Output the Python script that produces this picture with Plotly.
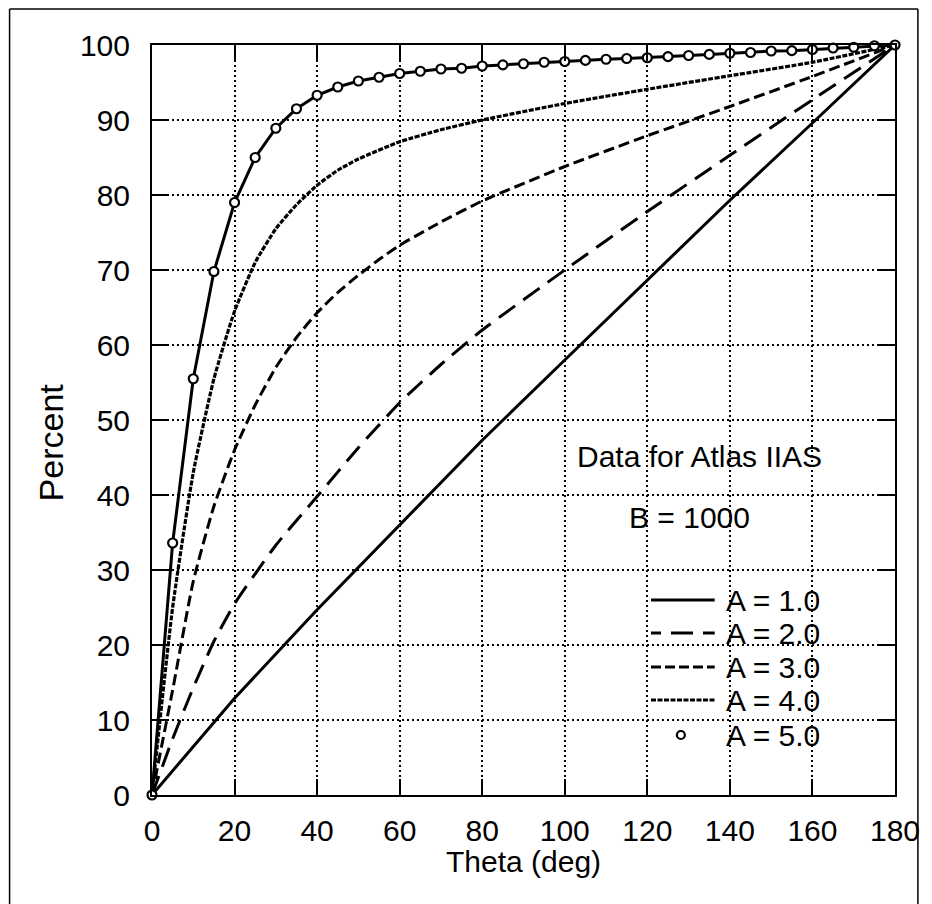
import plotly.graph_objects as go

# ---------------- data ----------------
theta_a1 = [0, 20, 40, 60, 80, 100, 120, 140, 160, 180]
pct_a1 = [0, 12.9, 24.7, 36.0, 47.3, 58.0, 68.6, 79.3, 89.6, 100]

theta_a2 = [0, 5, 10, 15, 20, 30, 40, 50, 60, 70, 80, 100, 120, 140, 160, 180]
pct_a2 = [0, 7.5, 14.3, 20.5, 25.5, 33.3, 39.8, 46.3, 52.3, 57.4, 62.0, 70.0, 77.8, 85.3, 92.7, 100]

theta_a3 = [0, 5, 10, 15, 20, 25, 30, 35, 40, 45, 50, 55, 60, 70, 80, 100, 120, 140, 160, 180]
pct_a3 = [0, 14.0, 28.5, 38.5, 46.0, 52.0, 57.0, 61.0, 64.3, 67.0, 69.3, 71.4, 73.3, 76.4,
          79.2, 83.8, 87.9, 91.8, 95.8, 100]

theta_a4 = [0, 5, 10, 15, 20, 25, 30, 35, 40, 45, 50, 60, 70, 80, 100, 120, 140, 160, 180]
pct_a4 = [0, 25.0, 43.0, 55.5, 64.5, 71.0, 75.5, 78.7, 81.3, 83.3, 84.8, 87.1, 88.7, 90.0,
          92.2, 94.1, 95.9, 97.7, 100]

theta_a5 = [0, 5, 10, 15, 20, 25, 30, 35, 40, 45, 50, 55, 60, 65, 70, 75, 80, 85, 90,
            95, 100, 105, 110, 115, 120, 125, 130, 135, 140, 145, 150, 155, 160, 165,
            170, 175, 180]
pct_a5 = [0, 33.6, 55.5, 69.8, 79.0, 85.0, 88.9, 91.5, 93.3, 94.4, 95.2, 95.7, 96.2,
          96.5, 96.8, 96.9, 97.2, 97.35, 97.5, 97.7, 97.8, 97.95, 98.1, 98.2, 98.3,
          98.45, 98.6, 98.75, 98.9, 99.0, 99.2, 99.25, 99.4, 99.6, 99.7, 99.9, 100]

series_names = ["A = 1.0", "A = 2.0", "A = 3.0", "A = 4.0", "A = 5.0"]
x_ticks = [0, 20, 40, 60, 80, 100, 120, 140, 160, 180]
y_ticks = [0, 10, 20, 30, 40, 50, 60, 70, 80, 90, 100]

FONT = "Liberation Sans, Arial, Helvetica, sans-serif"
BLACK = "#000000"

fig = go.Figure()

fig.add_trace(go.Scatter(x=theta_a1, y=pct_a1, mode="lines", name=series_names[0],
                         line=dict(color=BLACK, width=3)))
fig.add_trace(go.Scatter(x=theta_a2, y=pct_a2, mode="lines", name=series_names[1],
                         line=dict(color=BLACK, width=3, dash="20px,10px",
                                   shape="spline", smoothing=0.5)))
fig.add_trace(go.Scatter(x=theta_a3, y=pct_a3, mode="lines", name=series_names[2],
                         line=dict(color=BLACK, width=3, dash="11px,5px",
                                   shape="spline", smoothing=0.5)))
fig.add_trace(go.Scatter(x=theta_a4, y=pct_a4, mode="lines", name=series_names[3],
                         line=dict(color=BLACK, width=3.2, dash="5px,1.5px",
                                   shape="spline", smoothing=0.5)))
fig.add_trace(go.Scatter(x=theta_a5, y=pct_a5, mode="lines+markers", name=series_names[4],
                         line=dict(color=BLACK, width=3),
                         marker=dict(symbol="circle", size=9, color="white",
                                     line=dict(color=BLACK, width=2.2)),
                         cliponaxis=False))

# The page body has an 8px margin; positions below are page pixels.
OFF = 8
FIG_W, FIG_H = 932 - OFF, 904 - OFF
L, R, T, B = 152, 898, 45, 795          # plot area on the page
W, H = R - L, B - T


def px(xp):
    return (xp - L) / W


def py(yp):
    return (B - yp) / H


shapes = []
annotations = []

# outer frame around the whole figure
for x0, y0, x1, y1 in [(9, 9, 921, 9), (9, 9, 9, 904), (921, 9, 921, 904)]:
    shapes.append(dict(type="line", xref="paper", yref="paper",
                       x0=px(x0), y0=py(y0), x1=px(x1), y1=py(y1),
                       line=dict(color=BLACK, width=1.5)))

# custom legend
legend_rows = [600, 633, 667, 700, 735]
legend_dashes = ["solid", "10px,10px,22px,10px,12px", "10px,4px", "5px,1.5px", None]
for name, yrow, dsh in zip(series_names, legend_rows, legend_dashes):
    if dsh is not None:
        shapes.append(dict(type="line", xref="paper", yref="paper",
                           x0=px(653), x1=px(717), y0=py(yrow), y1=py(yrow),
                           line=dict(color=BLACK, width=3, dash=dsh)))
    else:
        shapes.append(dict(type="circle", xref="paper", yref="paper",
                           xsizemode="pixel", ysizemode="pixel",
                           xanchor=px(683), yanchor=py(yrow),
                           x0=-4, x1=4, y0=-4, y1=4,
                           line=dict(color=BLACK, width=2.2), fillcolor="white"))
    annotations.append(dict(xref="paper", yref="paper", x=px(726), y=py(yrow),
                            xanchor="left", yanchor="middle", showarrow=False,
                            text=name, font=dict(family=FONT, size=30, color=BLACK)))

annotations.append(dict(xref="paper", yref="paper", x=px(702), y=py(456),
                        xanchor="center", yanchor="middle", showarrow=False,
                        text="Data for Atlas IIAS", font=dict(family=FONT, size=30, color=BLACK)))
annotations.append(dict(xref="paper", yref="paper", x=px(692), y=py(517),
                        xanchor="center", yanchor="middle", showarrow=False,
                        text="B = 1000", font=dict(family=FONT, size=30, color=BLACK)))

# axis titles
annotations.append(dict(xref="paper", yref="paper", x=px(525), y=py(861),
                        xanchor="center", yanchor="middle", showarrow=False,
                        text="Theta (deg)", font=dict(family=FONT, size=30, color=BLACK)))
annotations.append(dict(xref="paper", yref="paper", x=px(51), y=py(442),
                        xanchor="center", yanchor="middle", showarrow=False, textangle=-90,
                        text="Percent", font=dict(family=FONT, size=34, color=BLACK)))

axis_common = dict(
    showline=True, linecolor=BLACK, linewidth=2, mirror="ticks",
    ticks="inside", ticklen=16, tickwidth=2, tickcolor=BLACK,
    showgrid=True, gridcolor=BLACK, gridwidth=2, griddash="2px,3px",
    zeroline=False,
    tickfont=dict(family=FONT, size=30, color=BLACK),
)

fig.update_layout(
    width=FIG_W, height=FIG_H,
    margin=dict(l=L - OFF, r=FIG_W - (R - OFF), t=T - OFF, b=FIG_H - (B - OFF)),
    paper_bgcolor="white", plot_bgcolor="white",
    showlegend=False,
    shapes=shapes, annotations=annotations,
    xaxis=dict(range=[0, 180], tickvals=x_ticks, ticktext=[str(v) for v in x_ticks],
               ticklabelstandoff=8, **axis_common),
    yaxis=dict(range=[0, 100], tickvals=y_ticks, ticktext=[str(v) for v in y_ticks],
               ticklabelstandoff=14, **axis_common),
)

fig.write_html("out.html")
